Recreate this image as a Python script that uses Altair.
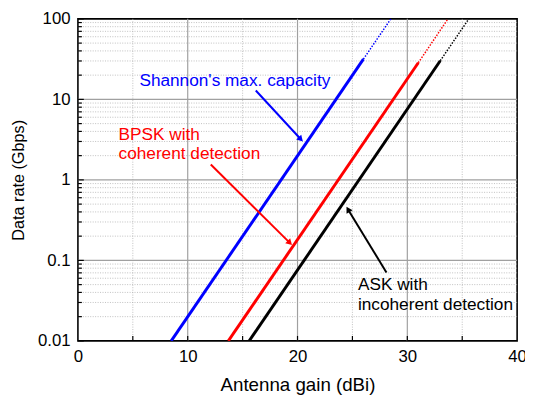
import altair as alt
import pandas as pd

# ---- data ----
series = ["Shannon", "BPSK", "ASK"]
colors = ["#0000ff", "#ff0000", "#000000"]
# gain (dBi) / data rate (Gbps): start, end of solid part, end of dotted part
blue_x = [8.5, 26.0, 28.5]
blue_y = [0.01, 31.6, 100]
red_x = [13.7, 31.0, 33.7]
red_y = [0.01, 28.5, 100]
black_x = [15.6, 33.0, 35.6]
black_y = [0.01, 30.2, 100]

x_major = [0, 10, 20, 30, 40]
x_minor = [5, 15, 25, 35]
x_ticks = [5, 10, 15, 20, 25, 30, 35]
y_major = [0.01, 0.1, 1, 10, 100]
y_minor = [m * d for d in [0.01, 0.1, 1, 10] for m in range(2, 10)]

# annotations: text rows (x, y, text), arrows (start x,y -> tip x,y)
ann_series = ["Shannon", "BPSK", "BPSK", "ASK", "ASK"]
ann_text = ["Shannon's max. capacity", "BPSK with", "coherent detection",
            "ASK with", "incoherent detection"]
ann_x = [5.6, 3.7, 3.7, 25.5, 25.5]
ann_y = [17.1, 3.64, 2.07, 0.0495, 0.0282]

arr_series = ["Shannon", "BPSK", "ASK"]
arr_x1 = [16.2, 12.1, 28.1]
arr_y1 = [12.9, 1.55, 0.0708]
arr_x2 = [20.3, 19.3, 24.6]
arr_y2 = [3.2, 0.165, 0.43]
arr_angle = [136, 135, 329]

# ---- tables ----
rows = []
for s, xs_, ys_ in zip(series, [blue_x, red_x, black_x], [blue_y, red_y, black_y]):
    rows += [dict(s=s, part="solid", x=xs_[0], y=ys_[0]),
             dict(s=s, part="solid", x=xs_[1], y=ys_[1]),
             dict(s=s, part="dot", x=xs_[1], y=ys_[1]),
             dict(s=s, part="dot", x=xs_[2], y=ys_[2])]
lines = pd.DataFrame(rows)
ann = pd.DataFrame(dict(s=ann_series, t=ann_text, x=ann_x, y=ann_y))
arr = pd.DataFrame(dict(s=arr_series, x=arr_x1, y=arr_y1, x2=arr_x2, y2=arr_y2, a=arr_angle))

W, H = 446, 327
FONT = "Liberation Sans"

xs = alt.Scale(domain=[0, 40], nice=False, zero=False)
ys = alt.Scale(type="log", domain=[0.01, 100], nice=False)
cs = alt.Scale(domain=series, range=colors)

xaxis = alt.Axis(values=x_major, title="Antenna gain (dBi)", grid=False, ticks=False,
                 domain=False, labelFontSize=17, titleFontSize=19, labelPadding=8,
                 titlePadding=11, labelFont=FONT, titleFont=FONT, titleFontWeight="normal",
                 labelColor="black", titleColor="black", labelFlush=False)
yaxis = alt.Axis(values=y_major, format="~g", title="Data rate (Gbps)", grid=False,
                 ticks=False, domain=False, labelFontSize=17, titleFontSize=16.5,
                 labelPadding=8, titlePadding=11, labelFont=FONT, titleFont=FONT,
                 titleFontWeight="normal", labelColor="black", titleColor="black")

X = lambda f="x": alt.X(f"{f}:Q", scale=xs, axis=xaxis)
Y = lambda f="y": alt.Y(f"{f}:Q", scale=ys, axis=yaxis)

ymin_df = pd.DataFrame(dict(y=y_minor))
ymaj_df = pd.DataFrame(dict(y=y_major[1:-1]))
xmin_df = pd.DataFrame(dict(x=x_minor))
xmaj_df = pd.DataFrame(dict(x=x_major[1:-1]))
xt_df = pd.DataFrame(dict(x=x_ticks))
ytmaj_df = pd.DataFrame(dict(y=y_major))

grid_minor_y = alt.Chart(ymin_df).mark_rule(color="#b0b0b0", strokeWidth=0.8, strokeDash=[1, 1.5]).encode(
    y=Y(), x=alt.value(0), x2=alt.value(W))
grid_minor_x = alt.Chart(xmin_df).mark_rule(color="#b0b0b0", strokeWidth=0.8, strokeDash=[1, 1.5]).encode(
    x=X(), y=alt.value(0), y2=alt.value(H))
grid_major_y = alt.Chart(ymaj_df).mark_rule(color="#a0a0a0", strokeWidth=1.2).encode(
    y=Y(), x=alt.value(0), x2=alt.value(W))
grid_major_x = alt.Chart(xmaj_df).mark_rule(color="#a0a0a0", strokeWidth=1.2).encode(
    x=X(), y=alt.value(0), y2=alt.value(H))

tick_x = alt.Chart(xt_df).mark_rule(color="black", strokeWidth=1.2).encode(
    x=X(), y=alt.value(H), y2=alt.value(H - 5))
tick_y_minor = alt.Chart(ymin_df).mark_rule(color="black", strokeWidth=1.2).encode(
    y=Y(), x=alt.value(0), x2=alt.value(4))
tick_y_major = alt.Chart(ytmaj_df).mark_rule(color="black", strokeWidth=1.2).encode(
    y=Y(), x=alt.value(0), x2=alt.value(6))

solid = alt.Chart(lines).transform_filter("datum.part == 'solid'").mark_line(
    strokeWidth=3, clip=True).encode(
    x=X(), y=Y(), color=alt.Color("s:N", scale=cs, legend=None), detail="s:N")
dotted = alt.Chart(lines).transform_filter("datum.part == 'dot'").mark_line(
    strokeWidth=1.5, strokeDash=[1.5, 1.5], clip=True).encode(
    x=X(), y=Y(), color=alt.Color("s:N", scale=cs, legend=None), detail="s:N")

texts = alt.Chart(ann).mark_text(align="left", baseline="middle", fontSize=17.5, font=FONT).encode(
    x=X(), y=Y(), text="t:N", color=alt.Color("s:N", scale=cs, legend=None))

arrow_lines = alt.Chart(arr).mark_rule(strokeWidth=2).encode(
    x=X(), y=Y(), x2="x2:Q", y2="y2:Q", color=alt.Color("s:N", scale=cs, legend=None))
heads = alt.Chart(arr).mark_point(shape="triangle-up", filled=True, size=50, opacity=1).encode(
    x=X("x2"), y=Y("y2"), angle=alt.Angle("a:Q", scale=None),
    color=alt.Color("s:N", scale=cs, legend=None))

chart = alt.layer(
    grid_minor_y, grid_minor_x, grid_major_y, grid_major_x,
    tick_x, tick_y_minor, tick_y_major,
    solid, dotted, arrow_lines, heads, texts,
).properties(
    width=W, height=H,
    background="white",
    autosize=alt.AutoSizeParams(type="none"),
    padding={"left": 71, "top": 8, "right": 8, "bottom": 58},
).configure_view(stroke="black", strokeWidth=1.6)

chart.save("out.html", embed_options={"renderer": "svg", "actions": False})
